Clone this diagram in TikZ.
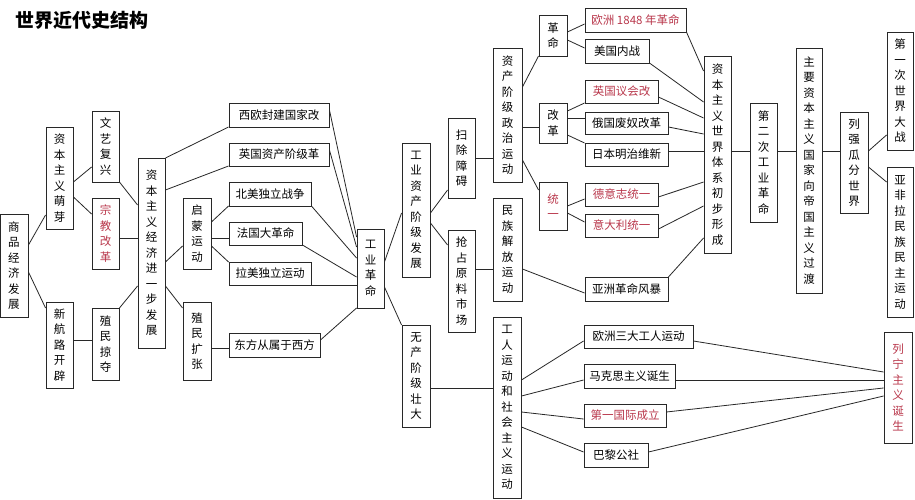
\documentclass[tikz,border=0pt]{standalone}
\usepackage{fontspec}
\newfontfamily\cjk{Noto Sans CJK SC}
\definecolor{redt}{RGB}{185,55,75}
\definecolor{ln}{RGB}{40,40,40}
\tikzset{box/.style={draw=ln,line width=0.9pt,align=center,inner sep=0pt,
  font=\cjk\fontsize{11.5}{15.5}\selectfont},
  cn/.style={draw=ln,line width=0.8pt}}
\newcommand\bx[7][black]{\node[box,text=#1,minimum width={(#5-#3)*1pt},minimum height={(#6-#4)*1pt}] (#2) at ({(#3+#5)/2},{(#4+#6)/2}) {#7};}
\newcommand\ed[4]{\draw[cn] (#1.east |- 0,#2) -- (#3.west |- 0,#4);}
\begin{document}
\begin{tikzpicture}[x=1pt,y=-1pt]
\useasboundingbox[fill=white] (0,0) rectangle (915,500);
\node[font=\cjk\bfseries\fontsize{19}{22}\selectfont,anchor=west] (title) at (12,20) {世界近代史结构};
\bx{sp}{0}{214}{28}{317}{商\\品\\经\\济\\发\\展}
\bx{mx}{46}{127}{73}{229}{资\\本\\主\\义\\萌\\芽}
\bx{xh}{46}{302}{73}{388}{新\\航\\路\\开\\辟}
\bx{wy}{92}{111}{119}{182}{文\\艺\\复\\兴}
\bx[redt]{zj}{92}{198}{119}{269}{宗\\教\\改\\革}
\bx{zm}{92}{308}{119}{380}{殖\\民\\掠\\夺}
\bx{zb}{138}{158}{165}{348}{资\\本\\主\\义\\经\\济\\进\\一\\步\\发\\展}
\bx{qm}{183}{198}{211}{269}{启\\蒙\\运\\动}
\bx{zk}{183}{302}{211}{380}{殖\\民\\扩\\张}
\bx{xo}{229}{103}{329}{127}{西欧封建国家改}
\bx{yg}{229}{143}{329}{166}{英国资产阶级革}
\bx{bm}{229}{182}{311}{206}{北美独立战争}
\bx{fg}{229}{222}{302}{245}{法国大革命}
\bx{lm}{229}{262}{311}{285}{拉美独立运动}
\bx{df}{229}{333}{320}{357}{东方从属于西方}
\bx{gy}{357}{229}{384}{308}{工\\业\\革\\命}
\bx{gz}{402}{143}{430}{277}{工\\业\\资\\产\\阶\\级\\发\\展}
\bx{wc}{402}{325}{430}{427}{无\\产\\阶\\级\\壮\\大}
\bx{sc}{448}{118}{475}{198}{扫\\除\\障\\碍}
\bx{qz}{448}{230}{475}{332}{抢\\占\\原\\料\\市\\场}
\bx{zz}{493}{48}{522}{182}{资\\产\\阶\\级\\政\\治\\运\\动}
\bx{mz}{493}{198}{522}{301}{民\\族\\解\\放\\运\\动}
\bx{gm}{539}{15}{567}{56}{革\\命}
\bx{gg}{539}{103}{567}{143}{改\\革}
\bx[redt]{ty}{539}{182}{567}{230}{统\\一}
\bx[redt]{oz}{585}{8}{686}{32}{欧洲 1848 年革命}
\bx{mg}{585}{39}{649}{63}{美国内战}
\bx[redt]{yh}{585}{80}{658}{103}{英国议会改}
\bx{eg}{585}{112}{668}{134}{俄国废奴改革}
\bx{rb}{585}{143}{668}{166}{日本明治维新}
\bx[redt]{dy}{585}{183}{658}{206}{德意志统一}
\bx[redt]{yd}{585}{214}{658}{237}{意大利统一}
\bx{yz}{585}{277}{668}{301}{亚洲革命风暴}
\bx{sj}{704}{56}{731}{253}{资\\本\\主\\义\\世\\界\\体\\系\\初\\步\\形\\成}
\bx{de}{750}{103}{777}{222}{第\\二\\次\\工\\业\\革\\命}
\bx{zy}{796}{48}{822}{293}{主\\要\\资\\本\\主\\义\\国\\家\\向\\帝\\国\\主\\义\\过\\渡}
\bx{lq}{840}{112}{868}{213}{列\\强\\瓜\\分\\世\\界}
\bx{yi}{887}{32}{913}{150}{第\\一\\次\\世\\界\\大\\战}
\bx{yf}{887}{167}{913}{317}{亚\\非\\拉\\民\\族\\民\\主\\运\\动}
\bx{gr}{493}{317}{521}{498}{工\\人\\运\\动\\和\\社\\会\\主\\义\\运\\动}
\bx{os}{584}{325}{693}{348}{欧洲三大工人运动}
\bx{mk}{584}{364}{675}{388}{马克思主义诞生}
\bx[redt]{dg}{584}{404}{666}{427}{第一国际成立}
\bx{bl}{584}{443}{648}{467}{巴黎公社}
\bx[redt]{ln}{884}{332}{912}{443}{列\\宁\\主\\义\\诞\\生}
% connectors
\ed{sp}{245}{mx}{215} \ed{sp}{272}{xh}{308}
\ed{mx}{182}{wy}{167} \ed{mx}{197}{zj}{214}
\ed{xh}{340}{zm}{340}
\ed{wy}{182}{zb}{205} \ed{zj}{238}{zb}{238} \ed{zm}{308}{zb}{286}
\ed{zb}{158}{xo}{127} \ed{zb}{190}{yg}{166} \ed{zb}{262}{qm}{246} \ed{zb}{286}{zk}{308}
\ed{qm}{222}{bm}{206} \ed{qm}{238}{fg}{238} \ed{qm}{246}{lm}{262}
\ed{zk}{348}{df}{348}
\ed{xo}{110}{gy}{237} \ed{yg}{150}{gy}{247} \ed{bm}{206}{gy}{258} \ed{fg}{245}{gy}{277} \ed{lm}{285}{gy}{285} \ed{df}{340}{gy}{308}
\ed{gy}{262}{gz}{213} \ed{gy}{287}{wc}{325}
\ed{gz}{213}{sc}{190} \ed{gz}{223}{qz}{245}
\ed{sc}{158}{zz}{158} \ed{qz}{269}{mz}{269}
\ed{zz}{87}{gm}{56} \ed{zz}{127}{gg}{127} \ed{zz}{160}{ty}{190}
\ed{gm}{32}{oz}{24} \ed{gm}{40}{mg}{48}
\ed{gg}{111}{yh}{103} \ed{gg}{118}{eg}{118} \ed{gg}{135}{rb}{143}
\ed{ty}{206}{dy}{199} \ed{ty}{213}{yd}{222}
\ed{mz}{269}{yz}{293}
\ed{oz}{32}{sj}{71} \ed{mg}{63}{sj}{102} \ed{yh}{97}{sj}{118} \ed{eg}{127}{sj}{134} \ed{rb}{151}{sj}{151} \ed{dy}{197}{sj}{182} \ed{yd}{229}{sj}{206} \ed{yz}{277}{sj}{238}
\ed{sj}{151}{de}{151} \ed{de}{151}{zy}{151} \ed{zy}{151}{lq}{151}
\ed{lq}{151}{yi}{135} \ed{lq}{167}{yf}{182}
\ed{wc}{388}{gr}{388}
\ed{gr}{380}{os}{341} \ed{gr}{396}{mk}{380} \ed{gr}{412}{dg}{419} \ed{gr}{427}{bl}{452}
\ed{os}{341}{ln}{372} \ed{mk}{380}{ln}{380} \ed{dg}{412}{ln}{388} \ed{bl}{452}{ln}{396}
\end{tikzpicture}
\end{document}
